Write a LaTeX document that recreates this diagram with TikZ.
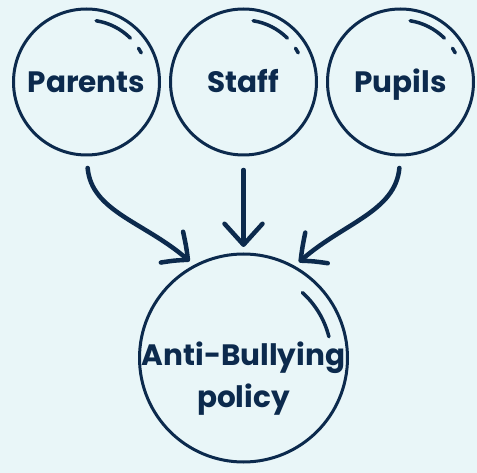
\documentclass[tikz,border=0pt]{standalone}
\usepackage{fontspec}
\setmainfont{Poppins}
\usetikzlibrary{arrows.meta, bending, positioning}
\definecolor{navy}{HTML}{0C2A4D}
\definecolor{paper}{HTML}{E9F6F8}
\tikzstyle{bubble}=[circle, draw=navy, line width=3pt, minimum size=146pt, inner sep=0pt, outer sep=0pt, text=navy, font=\bfseries\fontsize{29.5}{42}\selectfont, text height=22pt, text depth=0pt]
\tikzstyle{big}=[minimum size=208pt]
\tikzstyle{caption}=[text=navy, font=\bfseries\fontsize{29.5}{42}\selectfont, align=center, inner sep=0pt, text height=100pt, text depth=2pt]
\tikzstyle{feed}=[draw=navy, line width=4.5pt, line cap=round, -{Straight Barb[bend, round, length=21pt, width=38pt]}]
\tikzstyle{shine}=[draw=navy, line width=3.5pt, line cap=round]

\begin{document}
\begin{tikzpicture}
  \fill[paper] (0,0) rectangle (477pt,-473pt);
  \useasboundingbox (0,0) rectangle (477pt,-473pt);
  \node[bubble] (parents) at (86.5pt,-82pt) {Parents};
  \node[bubble] (staff) [right=11pt of parents] {Staff};
  \node[bubble] (pupils) [right=11pt of staff] {Pupils};
  \node[bubble,big,label={[caption]center:Anti-Bullying\\policy}] (policy) [below=99pt of staff] {};
  \draw[feed, shorten <=13pt, shorten >=7pt] (parents.south) to[out=-85, in=135] (policy.118);
  \draw[feed, shorten <=15pt, shorten >=7pt] (staff.south) -- (policy.north);
  \draw[feed, shorten <=13pt, shorten >=7pt] (pupils.south) to[out=-95, in=45] (policy.61);
  % little shine marks
  \foreach \b in {parents, staff, pupils} {
    \draw[shine] ([shift={(81:62pt)}]\b.center) arc[start angle=81, end angle=45, radius=62pt];
    \draw[shine] ([shift={(33:62pt)}]\b.center) arc[start angle=33, end angle=28, radius=62pt];
  }
  \draw[shine] ([shift={(48:88pt)}]policy.center) arc[start angle=48, end angle=14, radius=88pt];
\end{tikzpicture}
\end{document}
